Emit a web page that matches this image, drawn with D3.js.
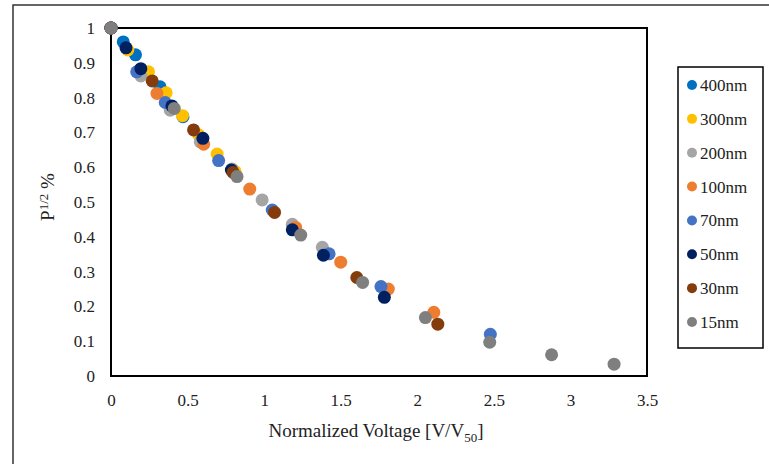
<!DOCTYPE html>
<html>
<head>
<meta charset="utf-8">
<script src="https://cdn.jsdelivr.net/npm/d3@7"></script>
<style>
  body { margin: 0; background: #fff; }
  svg text { font-family: "Liberation Serif", serif !important; fill: #222; }
</style>
</head>
<body>
<div id="chart"></div>
<script>
// series names and colours (legend order)
var seriesNames = ["400nm", "300nm", "200nm", "100nm", "70nm", "50nm", "30nm", "15nm"];
var seriesColors = ["#0070C0", "#FFC000", "#A5A5A5", "#ED7D31", "#4472C4", "#002060", "#843C0C", "#7F7F7F"];

// [V/V50, P^1/2]
var s400 = [[0, 1], [0.08, 0.96], [0.16, 0.923], [0.32, 0.831], [0.47, 0.745]];
var s300 = [[0, 1], [0.11, 0.937], [0.245, 0.874], [0.36, 0.814], [0.467, 0.748], [0.572, 0.693], [0.693, 0.638], [0.81, 0.588]];
var s200 = [[0, 1], [0.195, 0.862], [0.387, 0.764], [0.583, 0.673], [0.79, 0.595], [0.987, 0.506], [1.184, 0.436], [1.38, 0.37]];
var s100 = [[0, 1], [0.30, 0.812], [0.605, 0.666], [0.906, 0.537], [1.206, 0.427], [1.50, 0.327], [1.811, 0.25], [2.108, 0.183]];
var s70 = [[0, 1], [0.168, 0.874], [0.354, 0.786], [0.703, 0.619], [1.053, 0.477], [1.424, 0.351], [1.763, 0.257], [2.477, 0.12]];
var s50 = [[0, 1], [0.098, 0.943], [0.195, 0.883], [0.398, 0.776], [0.60, 0.683], [0.786, 0.592], [1.184, 0.42], [1.387, 0.347], [1.785, 0.226]];
var s30 = [[0, 1], [0.269, 0.848], [0.539, 0.707], [0.797, 0.585], [1.068, 0.47], [1.605, 0.283], [2.134, 0.149]];
var s15 = [[0, 1], [0.413, 0.769], [0.823, 0.573], [1.239, 0.405], [1.643, 0.269], [2.053, 0.168], [2.473, 0.097], [2.877, 0.061], [3.285, 0.034]];
var seriesData = [s400, s300, s200, s100, s70, s50, s30, s15];

var xTicks = [0, 0.5, 1, 1.5, 2, 2.5, 3, 3.5];
var yTicks = [0, 0.1, 0.2, 0.3, 0.4, 0.5, 0.6, 0.7, 0.8, 0.9, 1];

var W = 769, H = 464;
var svg = d3.select("#chart").append("svg")
  .attr("width", W).attr("height", H);

// outer frame (runs off the right and bottom)
svg.append("rect")
  .attr("x", 13).attr("y", 5)
  .attr("width", 800).attr("height", 500)
  .attr("fill", "none").attr("stroke", "#333").attr("stroke-width", 1.5);

var plot = {left: 111, right: 647, top: 28, bottom: 376};

var x = d3.scaleLinear().domain([0, 3.5]).range([plot.left, plot.right]);
var y = d3.scaleLinear().domain([0, 1]).range([plot.bottom, plot.top]);

// axis labels
var xAxis = d3.axisBottom(x).tickValues(xTicks).tickSize(0).tickPadding(18)
  .tickFormat(function(d){ return String(d); });
var gx = svg.append("g").attr("transform", "translate(0," + plot.bottom + ")").call(xAxis);
gx.select(".domain").remove();
gx.attr("font-family", null);
gx.selectAll("text").attr("font-size", 17);

var yAxis = d3.axisLeft(y).tickValues(yTicks).tickSize(0).tickPadding(16)
  .tickFormat(function(d){ return String(d); });
var gy = svg.append("g").attr("transform", "translate(" + plot.left + ",0)").call(yAxis);
gy.select(".domain").remove();
gy.attr("font-family", null);
gy.selectAll("text").attr("font-size", 17);

// plot frame
svg.append("rect")
  .attr("x", plot.left).attr("y", plot.top)
  .attr("width", plot.right - plot.left).attr("height", plot.bottom - plot.top)
  .attr("fill", "none").attr("stroke", "#000").attr("stroke-width", 2);

// points
seriesData.forEach(function(data, i){
  svg.append("g").selectAll("circle")
    .data(data).enter().append("circle")
    .attr("cx", function(d){ return x(d[0]); })
    .attr("cy", function(d){ return y(d[1]); })
    .attr("r", 6.5)
    .attr("fill", seriesColors[i]);
});

// axis titles
var xt = svg.append("text")
  .attr("x", (plot.left + plot.right) / 2 - 3).attr("y", 437)
  .attr("text-anchor", "middle").attr("font-size", 19);
xt.append("tspan").text("Normalized Voltage [V/V");
xt.append("tspan").text("50").attr("font-size", 13).attr("dy", 5);
xt.append("tspan").text("]").attr("dy", -5);

var yt = svg.append("text")
  .attr("transform", "translate(54,197) rotate(-90)")
  .attr("text-anchor", "middle").attr("font-size", 19);
yt.append("tspan").text("P");
yt.append("tspan").text("1/2").attr("font-size", 13).attr("dy", -6);
yt.append("tspan").text(" %").attr("dy", 6);

// legend
var leg = svg.append("g");
leg.append("rect")
  .attr("x", 678).attr("y", 67).attr("width", 85).attr("height", 281)
  .attr("fill", "#fff").attr("stroke", "#000").attr("stroke-width", 1.5);
var legY = d3.scalePoint().domain(seriesNames).range([85, 322]);
var items = leg.selectAll("g.item").data(seriesNames).enter().append("g")
  .attr("transform", function(d){ return "translate(692," + legY(d) + ")"; });
items.append("circle").attr("r", 5).attr("fill", function(d, i){ return seriesColors[i]; });
items.append("text").attr("x", 8).attr("dy", "0.35em").attr("font-size", 17)
  .text(function(d){ return d; });
</script>
</body>
</html>
